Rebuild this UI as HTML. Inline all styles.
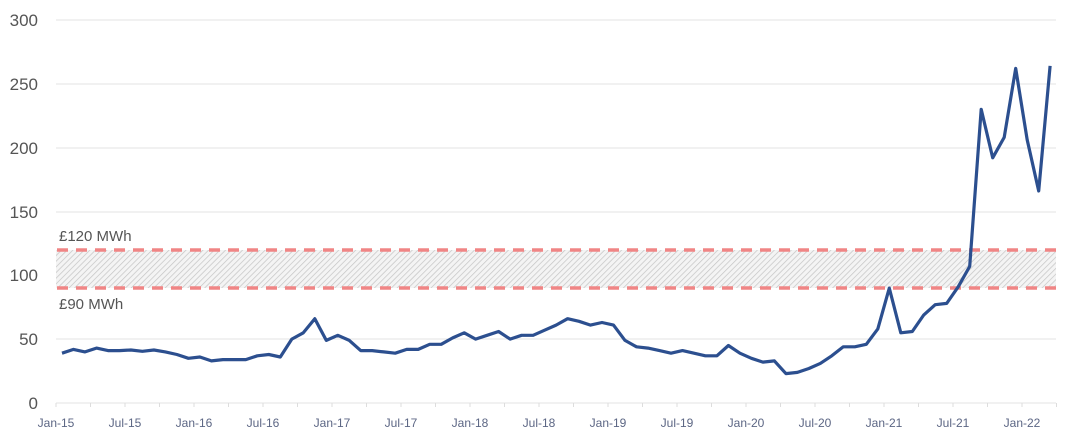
<!DOCTYPE html>
<html><head><meta charset="utf-8"><style>
html,body{margin:0;padding:0;background:#fff;}
svg{display:block;font-family:"Liberation Sans",sans-serif;}
</style></head><body>
<svg width="1072" height="440" viewBox="0 0 1072 440">
<defs>
<pattern id="h" width="4" height="4" patternUnits="userSpaceOnUse" patternTransform="rotate(45)">
<rect width="4" height="4" fill="#f4f4f4"/><line x1="0" y1="0" x2="0" y2="4" stroke="#c4c4c4" stroke-width="1.4"/>
</pattern>
</defs>
<g stroke="#e3e3e3" stroke-width="1">
<line x1="56" y1="20" x2="1056" y2="20"/>
<line x1="56" y1="84" x2="1056" y2="84"/>
<line x1="56" y1="148" x2="1056" y2="148"/>
<line x1="56" y1="212" x2="1056" y2="212"/>
<line x1="56" y1="275" x2="1056" y2="275"/>
<line x1="56" y1="339" x2="1056" y2="339"/>
<line x1="56" y1="403" x2="1056" y2="403"/>
</g>
<rect x="56" y="250" width="1000" height="38" fill="url(#h)"/>
<g stroke="#f08585" stroke-width="3.5" stroke-dasharray="11,8">
<line x1="57" y1="250" x2="1056" y2="250"/>
<line x1="57" y1="288" x2="1056" y2="288"/>
</g>
<g fill="#555" font-size="15">
<text x="59" y="241">£120 MWh</text>
<text x="59" y="309">£90 MWh</text>
</g>
<g fill="#555" font-size="17" text-anchor="end">
<text x="38" y="26">300</text><text x="38" y="90">250</text><text x="38" y="154">200</text>
<text x="38" y="218">150</text><text x="38" y="281">100</text><text x="38" y="345">50</text><text x="38" y="409">0</text>
</g>
<g fill="#5c6684" font-size="12" text-anchor="middle" id="xl"></g>
<g stroke="#ddd" id="tk"></g>
<polyline id="ln" fill="none" stroke="#2c4f8f" stroke-width="3.2" stroke-linejoin="round" points=""/>
<script>
var v=[39,42,40,43,41,41,41.5,40.5,41.5,40,38,35,36,33,34,34,34,37,38,36,50,55,66,49,53,49,41,41,40,39,42,42,46,46,51,55,50,53,56,50,53,53,57,61,66,64,61,63,61,49,44,43,41,39,41,39,37,37,45,39,35,32,33,23,24,27,31,37,44,44,46,58,90,55,56,69,77,78,91,107,230,192,208,262,206,166,264];
var p=v.map(function(d,i){return (62+i*11.49).toFixed(1)+","+(403-d*1.277).toFixed(1)}).join(" ");
document.getElementById("ln").setAttribute("points",p);
var labs=["Jan-15","Jul-15","Jan-16","Jul-16","Jan-17","Jul-17","Jan-18","Jul-18","Jan-19","Jul-19","Jan-20","Jul-20","Jan-21","Jul-21","Jan-22"];
var xl=document.getElementById("xl"),tk=document.getElementById("tk"),ns="http://www.w3.org/2000/svg";
labs.forEach(function(l,i){var x=56+i*6*11.5;var t=document.createElementNS(ns,"text");t.setAttribute("x",x);t.setAttribute("y",427);t.textContent=l;xl.appendChild(t);});
for(var m=0;m<=87;m+=3){var x=56+m*11.5;var ln=document.createElementNS(ns,"line");ln.setAttribute("x1",x);ln.setAttribute("x2",x);ln.setAttribute("y1",403);ln.setAttribute("y2",407);tk.appendChild(ln);}
</script>
</svg>
</body></html>
